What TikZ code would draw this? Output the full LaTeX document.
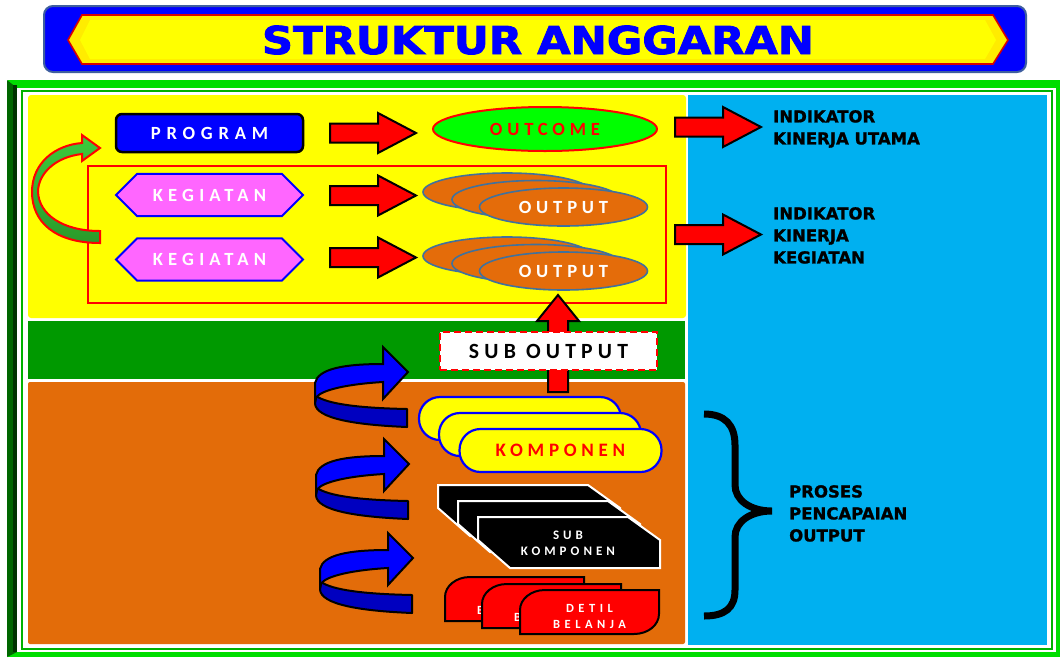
\documentclass[tikz,border=0pt]{standalone}
\usepackage{fontspec}
\usepackage{graphicx}
\usetikzlibrary{shapes.geometric,shapes.misc}
\newfontfamily\lblfont{Carlito}
\newfontfamily\heavyfont[FakeBold=1.2]{DejaVu Sans Bold}
\newfontfamily\titlefont[FakeBold=2]{DejaVu Sans Bold}
\newcommand\spaced[3]{\fontsize{#1}{#2}\selectfont\addfontfeatures{LetterSpace=#3}}

\definecolor{panelyellow}{HTML}{FFFF00}
\definecolor{panelblue}{HTML}{00B0F0}
\definecolor{panelgreen}{HTML}{009900}
\definecolor{panelorange}{HTML}{E36C09}
\definecolor{limegreen}{HTML}{00FF00}
\definecolor{royal}{HTML}{0000FF}
\definecolor{navyband}{HTML}{0000C0}
\definecolor{pinkfill}{HTML}{FF66FF}
\definecolor{outorange}{HTML}{E46C0A}
\definecolor{outedge}{HTML}{41719C}
\definecolor{framegreen}{HTML}{00DD00}
\definecolor{framedark}{HTML}{006600}
\definecolor{framedeep}{HTML}{003300}
\definecolor{titleedge}{HTML}{3F5F9F}
\definecolor{arrowgreenA}{HTML}{3CCB3C}
\definecolor{arrowgreenB}{HTML}{2A9A2A}

\tikzset{
  blockarrow/.style={fill=red, draw=black, line width=2pt, line join=miter},
  progbox/.style={rectangle, rounded corners=6pt, fill=royal, draw=black, line width=2.5pt,
    minimum width=187pt, minimum height=38pt, inner sep=0pt, text=white,
    font=\lblfont\bfseries\spaced{18.6}{22}{31}},
  kegbox/.style={chamfered rectangle, chamfered rectangle xsep=11pt, chamfered rectangle ysep=15pt,
    fill=pinkfill, draw=royal, line width=2pt, minimum width=187pt, minimum height=31pt,
    inner sep=0pt, text=white, font=\lblfont\bfseries\spaced{18.6}{22}{28}},
  outcomebox/.style={ellipse, fill=limegreen, draw=red, line width=2pt, minimum width=224pt,
    minimum height=44pt, inner sep=0pt, text=red, font=\lblfont\bfseries\spaced{18.6}{22}{26}},
  outell/.style={ellipse, fill=outorange, draw=outedge, line width=1.6pt, minimum width=168pt,
    minimum height=38pt, inner sep=0pt, text=white, font=\lblfont\bfseries\spaced{18.6}{22}{26}},
  suboutbox/.style={rectangle, fill=white, draw=red, line width=2pt, dash pattern=on 7pt off 4pt,
    minimum width=217pt, minimum height=38pt, inner sep=0pt, text=black,
    font=\lblfont\bfseries\spaced{21.7}{26}{24}},
  kompbox/.style={rectangle, rounded corners=21pt, fill=panelyellow, draw=royal, line width=2.2pt,
    minimum width=202pt, minimum height=43pt, inner sep=0pt, text=red,
    font=\lblfont\bfseries\spaced{19}{22}{25}},
  smalltext/.style={text=white, align=center, inner sep=0pt,
    font=\lblfont\bfseries\spaced{13}{16}{31}},
  cardtext/.style={text=white, inner sep=0pt, font=\lblfont\bfseries\spaced{12.5}{16}{36}},
  kpitext/.style={anchor=north west, align=left, inner sep=0pt, text=black,
    font=\heavyfont\fontsize{16.5}{22}\selectfont},
  % right-pointing red block arrow, origin at the tail centre
  pics/rarrow/.style={code={
    \draw[blockarrow] (0,-9.5) -- (48,-9.5) -- (48,-20) -- (86,0) -- (48,20) -- (48,9.5) -- (0,9.5) -- cycle;}},
  % twisted blue ribbon arrow, origin at the tip
  pics/twist/.style={code={
    \draw[fill=navyband, draw=black, line width=2pt, line join=round]
      (-92,24) .. controls (-80,32) and (-50,36) .. (-1,37) -- (-1,55)
      .. controls (-50,53) and (-93,47) .. (-93,31) -- cycle;
    \draw[fill=royal, draw=black, line width=2pt, line join=miter]
      (-93,31) -- (-93,11) .. controls (-90,-3) and (-65,-8) .. (-25,-8)
      -- (-25,-25) -- (0,0) -- (-25,27) -- (-25,10)
      .. controls (-60,12) and (-88,18) .. (-92,26) -- cycle;}},
  % stacked black slab of the sub-component pile
  pics/subslab/.style={code={
    \draw[fill=black, draw=white, line width=2pt]
      (0,0) -- (150,0) -- (182,23) -- (182,51) -- (32,51) -- (0,23) -- cycle;}},
  % red card of the spending-detail pile
  pics/detilcard/.style={code={
    \draw[fill=red, draw=black, line width=2pt]
      (0,44) -- (0,20) .. controls (0,9) and (11,0) .. (25,0) -- (139,0) -- (139,24)
      .. controls (139,35) and (128,44) .. (114,44) -- cycle;}},
}

\begin{document}
\begin{tikzpicture}[x=1pt,y=-1pt]
\useasboundingbox (0,0) rectangle (1060,657);
\fill[white] (0,0) rectangle (1060,657);

% title banner
\draw[fill=royal, draw=titleedge, line width=2pt, rounded corners=9pt] (44,6) rectangle (1026,72);
\fill[panelyellow!85!orange] (68,40) -- (82,15) -- (993,15) -- (1008,40) -- (993,64) -- (82,64) -- cycle;
\fill[panelyellow] (80,40) -- (90,20) -- (985,20) -- (996,40) -- (985,59) -- (90,59) -- cycle;
\draw[red!85!black, line width=1.6pt] (68,40) -- (82,15) -- (993,15) -- (1008,40) -- (993,64) -- (82,64) -- cycle;
\node[anchor=base, inner sep=0pt, text=royal, font=\titlefont\fontsize{38.4}{40}\selectfont]
  (title) at (538,54) {\scalebox{1.125}[1]{STRUKTUR ANGGARAN}};

% outer frame
\fill[framegreen] (8,80) rectangle (1060,657);
\fill[framedark] (7,80) -- (17,88) -- (17,652) -- (7,657) -- cycle;
\fill[framedeep] (13,85) rectangle (17,652);
\fill[white] (17,88) rectangle (1056,652);
\draw[green!70!black, line width=1.5pt] (22,91) rectangle (1052,649);

% panels
\fill[panelyellow, rounded corners=3pt] (28,95) rectangle (686,318);
\fill[panelblue] (688,95) rectangle (1047,645);
\fill[panelgreen] (28,321) rectangle (685,379);
\fill[panelorange, rounded corners=2pt] (28,382) rectangle (685,644);

% activity frame
\draw[red, line width=2pt] (88,166) rectangle (666,303);

% feedback arrow from activities back to programme
\draw[top color=arrowgreenA, bottom color=arrowgreenB, draw=red, line width=2pt, line join=miter]
  (100,148) -- (82,161) -- (82,154) .. controls (55,157) and (38,174) .. (38,192)
  .. controls (39,214) and (62,231) .. (100,231) -- (100,243)
  .. controls (55,243) and (32,222) .. (32,192) .. controls (32,163) and (55,145) .. (82,143)
  -- (82,135) -- cycle;

% programme / activities
\node[progbox] (program) at (209.5,133) {PROGRAM};
\node[kegbox] (keg1) at (209.5,195) {KEGIATAN};
\node[kegbox] (keg2) at (209.5,259.5) {KEGIATAN};

% arrows towards results
\pic at (330,133) {rarrow};
\pic at (330,195.5) {rarrow};
\pic at (330,257.5) {rarrow};

% outcome and outputs
\node[outcomebox] (outcome) at (545,129) {OUTCOME};
\node[outell] (out1a) at (507,192) {};
\node[outell] (out1b) at (536,199.5) {};
\node[outell] (out1) at (563.5,207) {OUTPUT};
\node[outell] (out2a) at (507,256) {};
\node[outell] (out2b) at (536,263.5) {};
\node[outell] (out2) at (563.5,271) {OUTPUT};

% arrows towards indicators
\pic at (675,127) {rarrow};
\pic at (675,234.5) {rarrow};

% indicator labels
\node[kpitext] (iku) at (773,110) {INDIKATOR\\KINERJA UTAMA};
\node[kpitext] (ikk) at (773,207) {INDIKATOR\\KINERJA\\KEGIATAN};

% sub output rising to outputs
\draw[blockarrow] (548,392) -- (548,321) -- (537,321) -- (558,295) -- (579,321) -- (568,321) -- (568,392) -- cycle;
\node[suboutbox] (subout) at (548.5,351) {SUB OUTPUT};

% ribbon arrows of the achievement process
\pic at (408,372) {twist};
\pic at (409,464) {twist};
\pic at (413,558) {twist};

% components
\node[kompbox] (komp1) at (520,418.5) {};
\node[kompbox] (komp2) at (540,434.5) {};
\node[kompbox] (komp) at (560.5,450.5) {KOMPONEN};

% sub components
\pic at (438,485) {subslab};
\pic at (458,501) {subslab};
\pic at (478,517) {subslab};
\node[smalltext] (subkomp) at (568,543) {SUB\\KOMPONEN};

% spending details: only the edge of the rear cards' lettering shows
\pic at (445,577) {detilcard};
\node[cardtext, anchor=base west] (det1) at (477,614) {B};
\pic at (482,584) {detilcard};
\node[cardtext, anchor=base west] (det2) at (514,621) {B};
\pic at (520,590) {detilcard};
\node[cardtext, align=center] (det3) at (589.5,616) {DETIL\\BELANJA};

% brace and process label
\draw[black, line width=7pt, line cap=butt]
  (704,414) .. controls (725,414) and (735,425) .. (735,445) -- (735,485)
  .. controls (735,500) and (750,511) .. (772,511)
  .. controls (750,511) and (735,522) .. (735,537) -- (735,590)
  .. controls (735,608) and (725,616) .. (704,616);
\node[kpitext] (proses) at (789,485) {PROSES\\PENCAPAIAN\\OUTPUT};
\end{tikzpicture}
\end{document}
